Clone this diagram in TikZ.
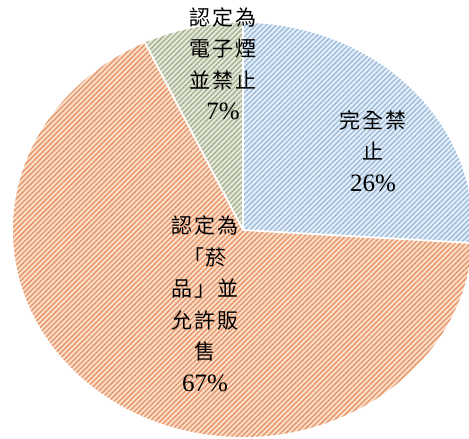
\documentclass[tikz,border=0pt]{standalone}
\usepackage{fontspec}
\setmainfont{Liberation Serif}
\newfontfamily\cjk{Noto Sans CJK TC}[LetterSpace=8]
\usetikzlibrary{patterns.meta}
\definecolor{bluebg}{HTML}{E9F0F8}
\definecolor{bluefg}{HTML}{9FBEDD}
\definecolor{orangebg}{HTML}{FBE2CF}
\definecolor{orangefg}{HTML}{E8976A}
\definecolor{greenbg}{HTML}{E7EBDD}
\definecolor{greenfg}{HTML}{A9B394}
\tikzset{
  slice/.style={draw=white, line width=1.8pt},
  lbl/.style={align=center, font=\fontsize{21}{31.5}\selectfont\cjk, text=black, inner sep=0pt},
}
\newcommand{\pct}[1]{{\fontsize{25}{31.5}\selectfont\rmfamily #1}}
\begin{document}
\begin{tikzpicture}[x=1pt,y=1pt]
\useasboundingbox (0,0) rectangle (469,439);
\coordinate (c) at (243,209);
% slices: base tint, then hatch
\foreach \s/\e/\bg/\fg in {90/-3.6/bluebg/bluefg, -3.6/-244.8/orangebg/orangefg, -244.8/-270/greenbg/greenfg}{
  \fill[\bg] (c) -- ++(\s:230 and 207) arc[start angle=\s, end angle=\e, x radius=230, y radius=207] -- cycle;
  \fill[pattern={Lines[angle=45, distance=3.6pt, line width=1.5pt]}, pattern color=\fg]
    (c) -- ++(\s:230 and 207) arc[start angle=\s, end angle=\e, x radius=230, y radius=207] -- cycle;
}
\draw[slice] (c) -- ++(90:230 and 207);
\draw[slice] (c) -- ++(-3.6:230 and 207);
\draw[slice] (c) -- ++(115.2:230 and 207);
% labels
\node[lbl] (green) at (223,375) {認定為\\電子煙\\並禁止\\\pct{7\%}};
\node[lbl] (blue) at (373,288) {完全禁\\止\\\pct{26\%}};
\node[lbl] (orange) at (205,135) {認定為\\「菸\\品」並\\允許販\\售\\\pct{67\%}};
\end{tikzpicture}
\end{document}
